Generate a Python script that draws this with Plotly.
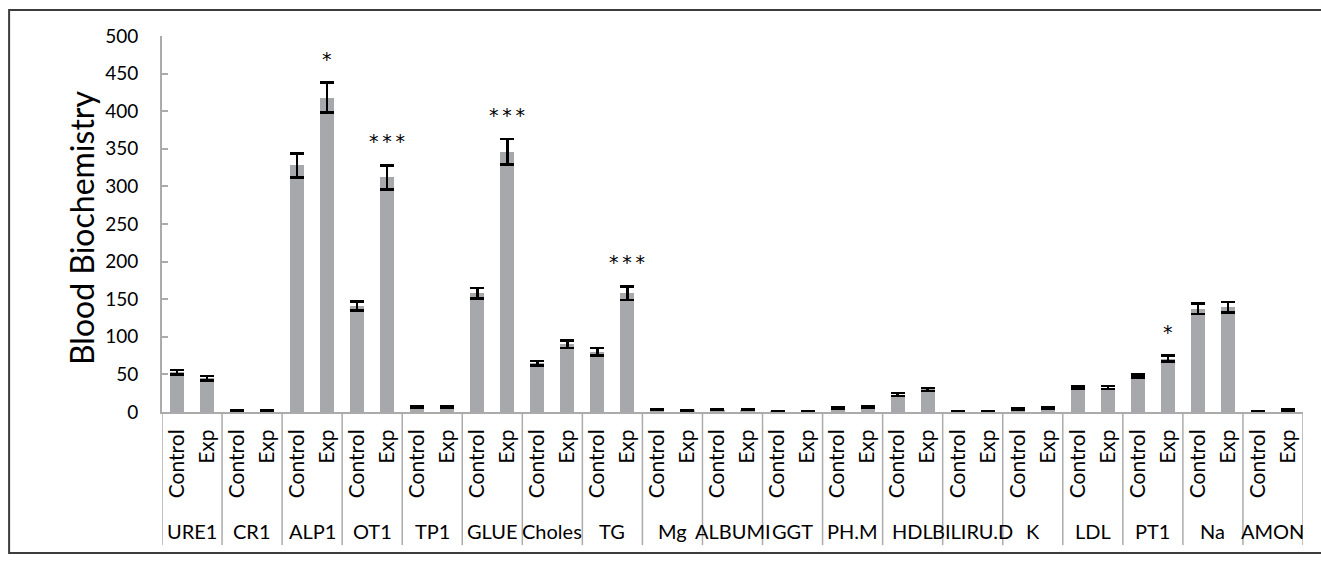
import plotly.graph_objects as go

# Analytes (outer category level) and the two groups compared for each
analytes = ["URE1", "CR1", "ALP1", "OT1", "TP1", "GLUE", "Choles", "TG", "Mg", "ALBUMI",
            "GGT", "PH.M", "HDL", "BILIRU.D", "K", "LDL", "PT1", "Na", "AMON"]
groups = ["Control", "Exp"]

# Mean values and standard errors
control_mean = [53, 1.5, 328, 141, 7, 158, 65, 80, 3, 3, 1, 5, 23, 1.2, 4, 33, 48, 137, 1.3]
exp_mean = [45, 1.5, 418, 312, 7, 346, 90, 158, 2, 3, 1.3, 6.5, 30, 1.2, 5.3, 32.5, 71, 139, 2.7]
control_err = [3, 0.3, 16, 6, 1, 7, 3, 5, 0.5, 0.5, 0.3, 1, 2, 0.3, 0.8, 1.5, 2, 7, 0.3]
exp_err = [3, 0.3, 20, 16, 1, 17, 5, 9, 0.5, 0.5, 0.3, 1, 2, 0.3, 0.8, 2, 4, 7, 0.8]

# Significance markers for the Exp bar of each analyte
significance = {"ALP1": "*", "OT1": "***", "GLUE": "***", "TG": "***", "PT1": "*"}

y_ticks = [0, 50, 100, 150, 200, 250, 300, 350, 400, 450, 500]

FONT = "Lato"
BAR_COLOR = "#A7A8AB"
AXIS_COLOR = "#ABABAB"

n = len(analytes)
x_ctrl = [2 * i for i in range(n)]
x_exp = [2 * i + 1 for i in range(n)]

fig = go.Figure()
for xs, ys, es in ((x_ctrl, control_mean, control_err), (x_exp, exp_mean, exp_err)):
    fig.add_trace(go.Bar(
        x=xs, y=ys, width=0.47,
        marker=dict(color=BAR_COLOR, line=dict(width=0)),
        error_y=dict(type="data", array=es, visible=True,
                     color="black", thickness=2.5, width=7),
        showlegend=False,
    ))

# Stars above the significant Exp bars
for name, mark in significance.items():
    i = analytes.index(name)
    fig.add_annotation(
        x=x_exp[i], y=exp_mean[i] + exp_err[i], xref="x", yref="y",
        text="\u2009".join(mark), showarrow=False, yanchor="middle", yshift=24,
        font=dict(family="DejaVu Sans", size=19, color="black"),
    )

# Analyte names (outer level of the category axis)
for i, name in enumerate(analytes):
    fig.add_annotation(
        x=2 * i + 0.5, y=-0.316, xref="x", yref="paper",
        text=name, showarrow=False, xanchor="center", yanchor="middle",
        font=dict(family=FONT, size=20, color="black"),
    )

# Dividers between analyte groups below the axis
for k in range(n + 1):
    fig.add_shape(
        type="line", xref="x", yref="paper",
        x0=2 * k - 0.5, x1=2 * k - 0.5, y0=0, y1=-0.354,
        line=dict(color=AXIS_COLOR, width=1.5),
    )

# Outer frame of the chart
fig.add_shape(
    type="rect", xref="paper", yref="paper",
    x0=-0.134, x1=1.04, y0=-0.375, y1=1.069,
    line=dict(color="#3C3C3C", width=2), fillcolor="rgba(0,0,0,0)",
)

# Y axis title
fig.add_annotation(
    x=-0.071, y=0.492, xref="paper", yref="paper",
    text="Blood Biochemistry", textangle=-90, showarrow=False,
    xanchor="center", yanchor="middle",
    font=dict(family=FONT, size=32, color="black"),
)

fig.update_layout(
    width=1321, height=568,
    margin=dict(l=162, r=18, t=36, b=156),
    paper_bgcolor="white", plot_bgcolor="white",
    bargap=0,
    font=dict(family=FONT, color="black"),
    xaxis=dict(
        range=[-0.5, 2 * n - 0.5],
        tickmode="array",
        tickvals=x_ctrl + x_exp,
        ticktext=[groups[0]] * n + [groups[1]] * n,
        tickangle=-90,
        tickfont=dict(family=FONT, size=21, color="black"),
        ticks="", ticklabelstandoff=7,
        showline=True, linecolor=AXIS_COLOR, linewidth=2,
        showgrid=False, zeroline=False, fixedrange=True,
    ),
    yaxis=dict(
        range=[0, 500],
        tickmode="array", tickvals=y_ticks,
        ticks="inside", ticklen=6, tickwidth=2, tickcolor=AXIS_COLOR,
        tickfont=dict(family=FONT, size=19, color="black"),
        ticklabelstandoff=18,
        showline=True, linecolor=AXIS_COLOR, linewidth=2,
        showgrid=False, zeroline=False, fixedrange=True,
    ),
)

fig.write_html("out.html")
